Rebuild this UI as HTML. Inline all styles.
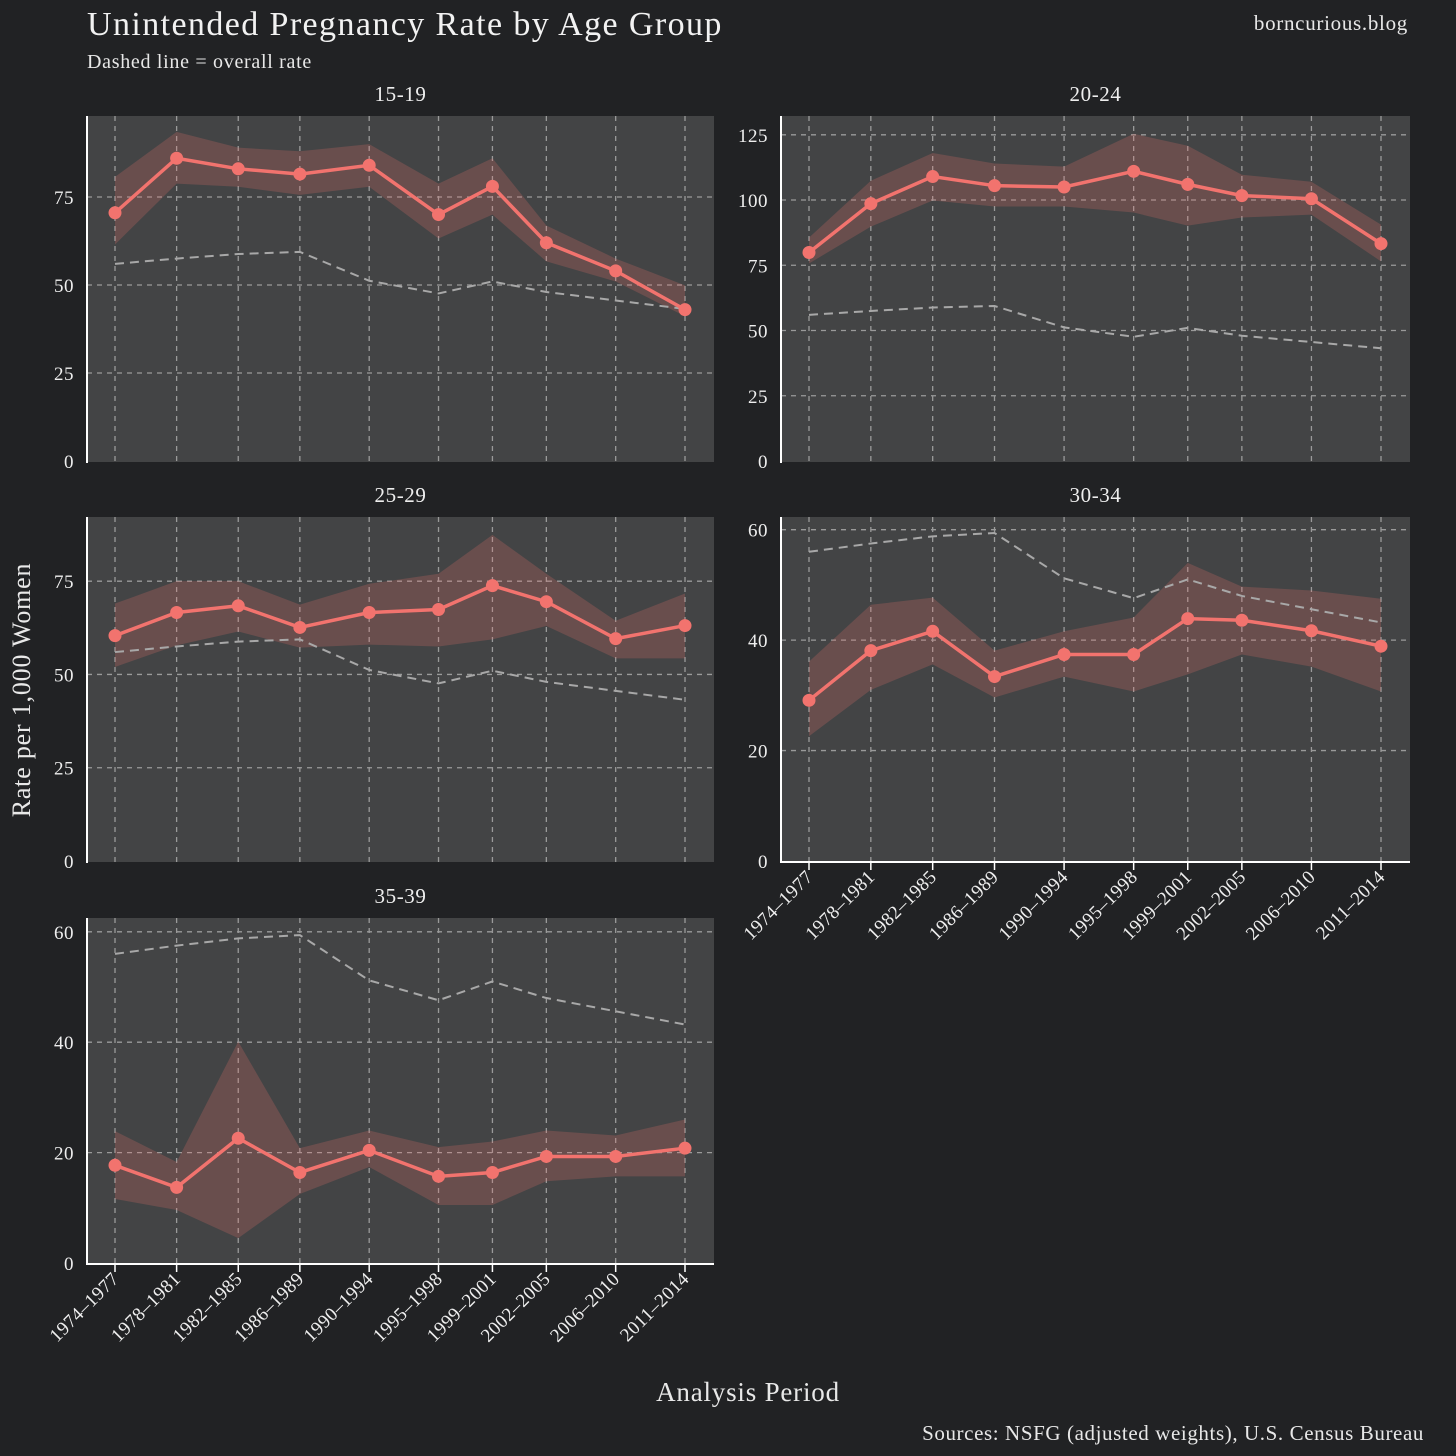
<!DOCTYPE html>
<html><head><meta charset="utf-8"><style>
body{margin:0;background:#212224;}
svg{display:block;font-family:"Liberation Serif",serif;}
</style></head><body>
<svg id="c" width="1456" height="1456" viewBox="0 0 1456 1456">
<rect width="1456" height="1456" fill="#212224"/>
<text x="87" y="35" font-size="34" letter-spacing="1.4" fill="#f2f2f2">Unintended Pregnancy Rate by Age Group</text>
<text x="87" y="68" font-size="20" letter-spacing="0.7" fill="#e8e8e8">Dashed line = overall rate</text>
<text x="1408" y="30" font-size="21" letter-spacing="0.7" fill="#e8e8e8" text-anchor="end">borncurious.blog</text>
<text x="748" y="1401" font-size="27" letter-spacing="0.8" fill="#e8e8e8" text-anchor="middle">Analysis Period</text>
<text x="30" y="690" font-size="26" letter-spacing="0.8" fill="#e8e8e8" text-anchor="middle" transform="rotate(-90 30 690)">Rate per 1,000 Women</text>
<text x="1424" y="1440" font-size="21" letter-spacing="0.6" fill="#e8e8e8" text-anchor="end">Sources: NSFG (adjusted weights), U.S. Census Bureau</text>
</svg>
<script>
const periods=["1974–1977","1978–1981","1982–1985","1986–1989","1990–1994","1995–1998","1999–2001","2002–2005","2006–2010","2011–2014"];
const midYears=[1975.5,1979.5,1983.5,1987.5,1992,1996.5,2000,2003.5,2008,2012.5];
const overall=[56,57.5,58.8,59.4,51.2,47.6,51,48,45.6,43.2];
const r1519=[70.5,86,83,81.5,84,70,78,62,54,43];
const u1519=[80.7,93.5,89,88,90,78.8,86,66.9,57.5,49.9];
const l1519=[61.5,78.8,77.9,75.6,77.9,63.2,70,56.7,51,41.1];
const r2024=[79.9,98.6,109,105.5,105,111,106,101.7,100.5,83.3];
const u2024=[85.6,107.4,118,114,112.8,125.4,120.8,109.7,107,90.6];
const l2024=[75.7,89.8,99.8,97.5,97.5,95.2,90.2,93.3,94.4,76.5];
const r2529=[60.4,66.6,68.4,62.6,66.6,67.4,73.8,69.5,59.6,63.1];
const u2529=[69,75,75,68.7,74.3,77,87.4,77,64.4,71.7];
const l2529=[52,57.8,61.5,57.2,58,57.5,59.4,63,54.3,54.3];
const r3034=[29.1,38.1,41.6,33.4,37.4,37.4,43.9,43.6,41.7,38.9];
const u3034=[36.1,46.4,47.7,38.1,41.6,44.1,54,49.7,49,47.5];
const l3034=[22.6,31,35.6,29.6,33.4,30.7,33.8,37.4,35.2,30.7];
const r3539=[17.7,13.7,22.6,16.4,20.4,15.7,16.4,19.3,19.3,20.8];
const u3539=[23.9,18.3,40.1,20.8,24,21,22,24,23.1,26];
const l3539=[11.6,9.6,4.5,12.5,17.4,10.5,10.5,14.8,15.7,15.7];
const yTicks1=[0,25,50,75];
const yTicks2=[0,25,50,75,100,125];
const yTicks3=[0,20,40,60];

const NS="http://www.w3.org/2000/svg";
const svg=document.getElementById('c');
function mk(t,a,p){const e=document.createElementNS(NS,t);for(const k in a)e.setAttribute(k,a[k]);(p||svg).appendChild(e);return e;}

const panels=[
 {name:"15-19",x0:87,x1:714,y0:116,y1:462,ymax:98,ticks:yTicks1,r:r1519,u:u1519,l:l1519,bottom:false},
 {name:"20-24",x0:781,x1:1410,y0:116,y1:462,ymax:132.2,ticks:yTicks2,r:r2024,u:u2024,l:l2024,bottom:false},
 {name:"25-29",x0:87,x1:714,y0:517,y1:862,ymax:92.2,ticks:yTicks1,r:r2529,u:u2529,l:l2529,bottom:false},
 {name:"30-34",x0:781,x1:1410,y0:517,y1:862,ymax:62.3,ticks:yTicks3,r:r3034,u:u3034,l:l3034,bottom:true},
 {name:"35-39",x0:87,x1:714,y0:918,y1:1264,ymax:62.5,ticks:yTicks3,r:r3539,u:u3539,l:l3539,bottom:true}
];
panels.forEach(p=>{
  const g=mk('g',{});
  
  
  const xs=v=>p.x0+28+(v-1975.5)/(2012.5-1975.5)*(p.x1-p.x0-57);
  const ys=v=>p.y1-1-v/p.ymax*(p.y1-1-p.y0);
  const bg=mk('rect',{x:p.x0,y:p.y0,width:p.x1-p.x0,height:p.y1-p.y0,fill:'#434445'},g);
  
  
  const t=mk('text',{x:(p.x0+p.x1)/2,y:p.y0-15,'font-size':21,'letter-spacing':0.6,fill:'#eeeeee','text-anchor':'middle'},g);
  t.textContent=p.name;
  
  
  p.ticks.forEach(v=>{
    const y=ys(v);
    if(y>p.y0+2&&v>0) mk('line',{x1:p.x0,x2:p.x1,y1:y,y2:y,stroke:'#9a9a9a','stroke-width':1.3,'stroke-dasharray':'5 5'},g);
    const tl=mk('text',{x:p.x0-13,y:y+7,'font-size':19,'letter-spacing':0.5,fill:'#eeeeee','text-anchor':'end'},g);
    tl.textContent=v;
    
    
  });
  midYears.forEach((m,i)=>{
    const x=xs(m);
    mk('line',{x1:x,x2:x,y1:p.y0,y2:p.y1,stroke:'#9a9a9a','stroke-width':1.3,'stroke-dasharray':'5 5'},g);
    if(p.bottom){
      mk('line',{x1:x,x2:x,y1:p.y1,y2:p.y1+8,stroke:'#ffffff','stroke-width':1.5},g);
      const tl=mk('text',{x:x+5,y:p.y1+16,'font-size':19,'letter-spacing':0.4,fill:'#eeeeee','text-anchor':'end',transform:`rotate(-45 ${x+5} ${p.y1+16})`},g);
      tl.textContent=periods[i];
      
      
    }
  });
  let band=p.u.map((v,i)=>xs(midYears[i])+','+ys(v)).join(' ')+' '+p.l.map((v,i)=>xs(midYears[i])+','+ys(v)).reverse().join(' ');
  const b=mk('polygon',{points:band,fill:'#f2736e','fill-opacity':0.22},g);
  
  
  const o=mk('polyline',{points:overall.map((v,i)=>xs(midYears[i])+','+ys(v)).join(' '),fill:'none',stroke:'#a8a8a8','stroke-width':2,'stroke-dasharray':'9 6'},g);
  
  
  const l=mk('polyline',{points:p.r.map((v,i)=>xs(midYears[i])+','+ys(v)).join(' '),fill:'none',stroke:'#f2736e','stroke-width':3.5},g);
  
  
  p.r.forEach((v,i)=>{
    const c=mk('circle',{cx:xs(midYears[i]),cy:ys(v),r:6.5,fill:'#f2736e'},g);
    
    
  });
  mk('line',{x1:p.x0,x2:p.x0,y1:p.y0,y2:p.y1+1,stroke:'#ffffff','stroke-width':2},g);
  if(p.bottom) mk('line',{x1:p.x0-1,x2:p.x1,y1:p.y1,y2:p.y1,stroke:'#ffffff','stroke-width':2},g);
});
</script>
</body></html>
